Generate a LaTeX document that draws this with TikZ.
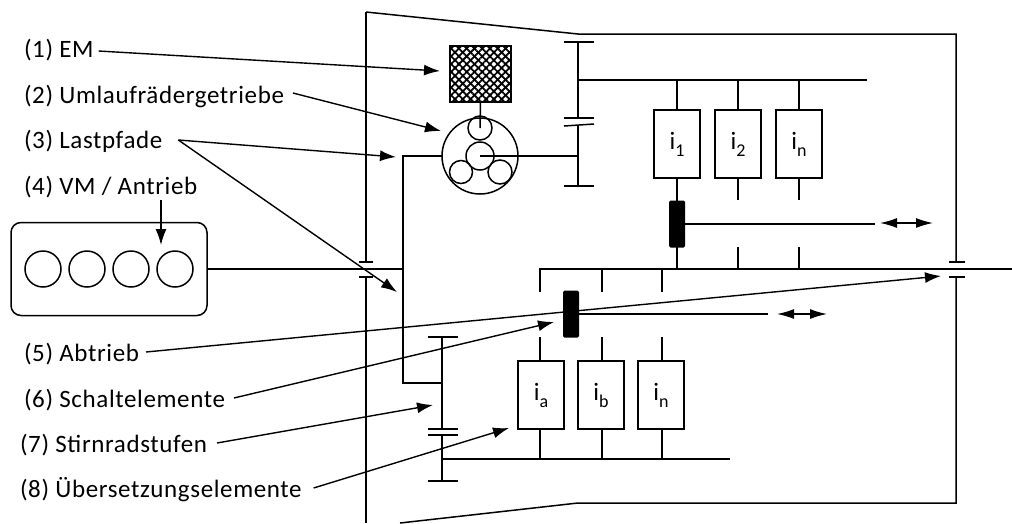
\documentclass[tikz,border=0pt]{standalone}
\usepackage{fontspec}
\setmainfont{Carlito}[LetterSpace=2.5]
\usetikzlibrary{arrows.meta,patterns.meta}
\newcommand{\ratio}[1]{i\raisebox{-7pt}{\fontsize{18}{18}\selectfont #1}}

\begin{document}
\begin{tikzpicture}
                [x=1pt,y=-1pt,line width=1.5pt,
                every node/.style={inner sep=0pt,outer sep=0pt},
                callout/.style={anchor=west,font=\fontsize{25}{28}\selectfont,text height=17pt,text depth=6pt},
                pointer/.style={-{Latex[length=16pt,width=11pt]},line width=1.4pt},
                shifter/.style={{Latex[length=17pt,width=10pt]}-{Latex[length=17pt,width=10pt]},line width=1.4pt},
                ratiobox/.style={draw,minimum width=46pt,minimum height=68pt,font=\fontsize{25}{28}\selectfont},
                sleeve/.style={fill=black,rounded corners=1.5pt,minimum width=16pt,minimum height=47pt},
                wheel/.style={draw,circle}]
                \useasboundingbox (0,0) rectangle (1012,523);
                % housing
                \draw (366,12) -- (578,34) -- (956,34) -- (956,262);
                \draw (956,277) -- (956,503) -- (578,503) -- (400,523);
                \draw (366,12) -- (366,262);
                \draw (366,277) -- (366,523);
                \draw (359,262) -- (373,262);
                \draw (359,277) -- (373,277);
                \draw (949,262) -- (965,262);
                \draw (949,277) -- (965,277);
                % engine
                \node[draw,rounded corners=10pt,minimum width=196pt,minimum height=93pt] (vm) at (109,269) {};
                \foreach \cx/\name in {43/a,87/b,131/c,175/d}
                \node[wheel,minimum size=36pt] (cyl\name) at (\cx,269) {};
                % planetary set
                \node[draw,minimum width=61pt,minimum height=56pt,
                postaction={pattern={Lines[angle=45,distance=5.5pt,line width=1.8pt]}},
                postaction={pattern={Lines[angle=-45,distance=5.5pt,line width=1.8pt]}}] (em) at (480.5,74) {};
                \node[wheel,minimum size=76pt] (ring) at (480,156) {};
                \node[wheel,minimum size=28pt] (sun) at (480,156) {};
                \node[wheel,minimum size=24pt] (planeta) at (480,128) {};
                \node[wheel,minimum size=23pt] (planetb) at (461,172) {};
                \node[wheel,minimum size=24pt] (planetc) at (500,172) {};
                \draw (em.south) -- (planeta.center);
                % load paths
                \coordinate (branch) at (403,269);
                \draw (vm.east) -- (branch);
                \draw (ring.west) -- (403,156) -- (403,383) -- (442,383);
                \draw (sun.center) -- (578,156);
                % upper spur gears
                \draw (578,42) -- (578,118);
                \draw (578,125) -- (578,186);
                \draw (564,42) -- (594,42);
                \draw (564,118) -- (594,118);
                \draw (564,126) -- (594,124);
                \draw (564,186) -- (594,186);
                % lower spur gears
                \draw (442,337) -- (442,429);
                \draw (442,435) -- (442,481);
                \draw (428,337) -- (458,337);
                \draw (428,429) -- (458,429);
                \draw (428,435) -- (458,435);
                \draw (428,481) -- (458,481);
                % output shaft
                \draw (540,292) -- (540,269) -- (1012,269);
                \draw (662,269) -- (662,292);
                \draw (602,269) -- (602,292);
                % upper ratio stages
                \draw (578,80) -- (867,80);
                \node[ratiobox] (ione) at (677,144) {\ratio{1}};
                \node[ratiobox] (itwo) at (738,144) {\ratio{2}};
                \node[ratiobox] (ithree) at (799,144) {\ratio{n}};
                \draw (ione.north) -- (ione.north |- 0,80);
                \draw (itwo.north) -- (itwo.north |- 0,80);
                \draw (ithree.north) -- (ithree.north |- 0,80);
                \draw (ione.south) -- (ione.south |- 0,269);
                \draw (itwo.south) -- (itwo.south |- 0,200);
                \draw (itwo.south |- 0,247) -- (itwo.south |- 0,269);
                \draw (ithree.south) -- (ithree.south |- 0,200);
                \draw (ithree.south |- 0,247) -- (ithree.south |- 0,269);
                \node[sleeve] (sleeveup) at (677,224) {};
                \draw (sleeveup.east) -- ++(190,0);
                % lower ratio stages
                \draw (442,459) -- (730,459);
                \node[ratiobox] (ia) at (541,395) {\ratio{a}};
                \node[ratiobox] (ib) at (601,395) {\ratio{b}};
                \node[ratiobox] (ic) at (661,395) {\ratio{n}};
                \draw (540,429) -- (540,459);
                \draw (602,429) -- (602,459);
                \draw (662,429) -- (662,459);
                \draw (540,337) -- (540,361);
                \draw (602,337) -- (602,361);
                \draw (662,337) -- (662,361);
                % shift arrows
                \coordinate (shiftupl) at (880,223);
                \coordinate (shiftupr) at (933,223);
                \coordinate (shiftlol) at (777,314);
                \coordinate (shiftlor) at (827,314);
                \draw[shifter] (shiftupl) -- (shiftupr);
                \draw[shifter] (shiftlol) -- (shiftlor);
                % labels
                \node[callout] (emlabel) at (24,52) {(1) EM};
                \node[callout] (gearlabel) at (24,98) {(2) Umlaufrädergetriebe};
                \node[callout] (pathlabel) at (24,143) {(3) Lastpfade};
                \node[callout] (vmlabel) at (24,189) {(4) VM / Antrieb};
                \node[callout] (outlabel) at (24,356) {(5) Abtrieb};
                \node[callout] (switchlabel) at (24,402) {(6) Schaltelemente};
                \node[callout] (spurlabel) at (20,447) {(7) Stirnradstufen};
                \node[callout] (ratiolabel) at (20,492) {(8) Übersetzungselemente};
                \coordinate (emtip) at (440,71);
                \coordinate (geartip) at (441,131);
                \coordinate (pathtipa) at (396,157);
                \coordinate (pathtipb) at (397,292);
                \coordinate (vmtop) at (161,200);
                \coordinate (vmtip) at (161,245);
                \coordinate (outtip) at (941,276);
                \coordinate (switchtip) at (554,322);
                \coordinate (spurtip) at (433,405);
                \coordinate (ratiotip) at (509,428);
                \draw[pointer] ([xshift=5pt,yshift=1pt]emlabel.east) -- (emtip);
                \draw[pointer] ([xshift=9pt,yshift=5pt]gearlabel.east) -- (geartip);
                \draw[pointer] ([xshift=16pt,yshift=3pt]pathlabel.east) -- (pathtipa);
                \draw[pointer] ([xshift=16pt,yshift=3pt]pathlabel.east) -- (pathtipb);
                \draw[pointer] (vmtop) -- (vmtip);
                \draw[pointer] ([xshift=7pt,yshift=4pt]outlabel.east) -- (outtip);
                \draw[pointer] ([xshift=9pt,yshift=4pt]switchlabel.east) -- (switchtip);
                \draw[pointer] ([xshift=10pt,yshift=4pt]spurlabel.east) -- (spurtip);
                \draw[pointer] ([xshift=12pt,yshift=4pt]ratiolabel.east) -- (ratiotip);
                % shift sleeve in front of the pointer
                \node[sleeve] (sleevelo) at (571,314) {};
                \draw (sleevelo.east) -- ++(189,0);
            \end{tikzpicture}
\end{document}
